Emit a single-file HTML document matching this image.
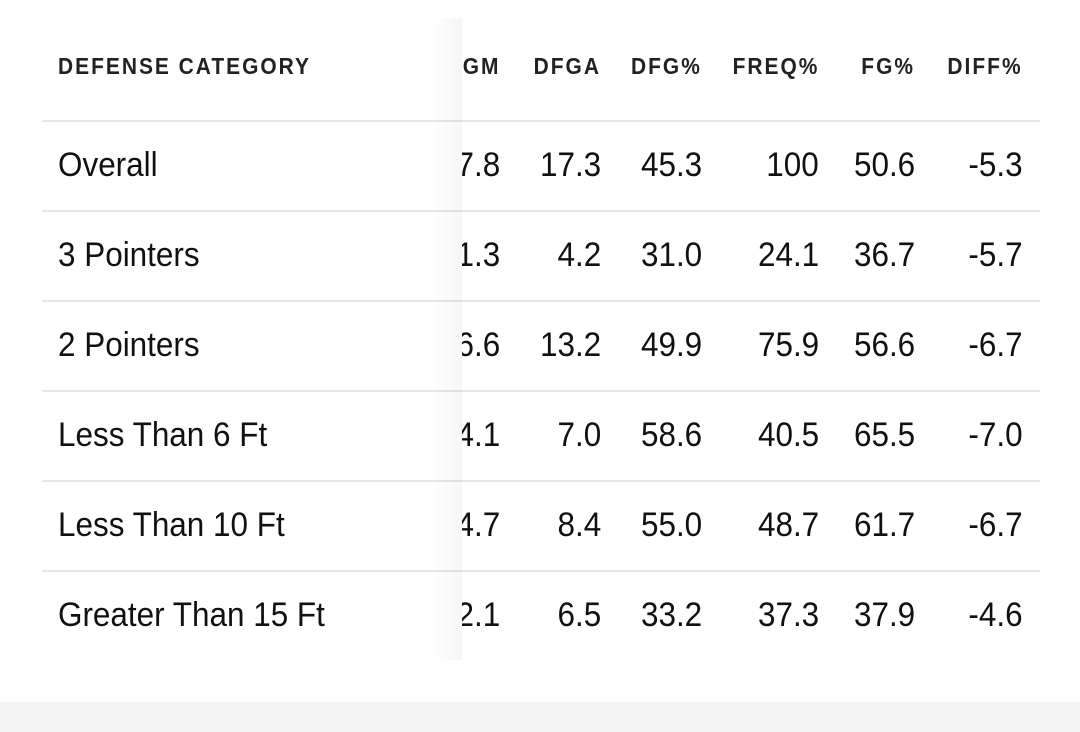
<!DOCTYPE html>
<html><head><meta charset="utf-8"><style>
body{margin:0;width:1080px;height:732px;background:#fff;position:relative;overflow:hidden;font-family:"Liberation Sans Narrow","Liberation Sans",sans-serif;color:#111}
.t{position:absolute;white-space:nowrap;line-height:1}
.h{font-weight:bold;font-size:23px;letter-spacing:2.2px;color:#222}
.v{font-size:34px}
.L{transform-origin:left center}
.R{transform-origin:right center}
.h.L,.h.R{transform:scaleX(0.91)}
.v.L,.v.R{transform:scaleX(0.925)}
.line{position:absolute;left:42px;width:998px;height:2px;background:#e6e6e6}
#scroll{position:absolute;left:462px;top:0;width:618px;height:700px;overflow:hidden}
</style></head><body>
<div id="tbl"></div>
<div style="position:absolute;left:432px;top:18px;width:30px;height:642px;background:linear-gradient(to right,rgba(0,0,0,0),rgba(0,0,0,0.035))"></div>
<div style="position:absolute;left:0;top:702px;width:1080px;height:30px;background:#f4f4f4"></div>
<script>
const headers=["GM","DFGA","DFG%","FREQ%","FG%","DIFF%"];
const categories=["Overall","3 Pointers","2 Pointers","Less Than 6 Ft","Less Than 10 Ft","Greater Than 15 Ft"];
const dfgm=["7.8","1.3","6.6","4.1","4.7","2.1"];
const dfga=["17.3","4.2","13.2","7.0","8.4","6.5"];
const dfgPct=["45.3","31.0","49.9","58.6","55.0","33.2"];
const freqPct=["100","24.1","75.9","40.5","48.7","37.3"];
const fgPct=["50.6","36.7","56.6","65.5","61.7","37.9"];
const diffPct=["-5.3","-5.7","-6.7","-7.0","-6.7","-4.6"];
const cols=[dfgm,dfga,dfgPct,freqPct,fgPct,diffPct];
const rightEdges=[500,601,702,819,915,1023];
const tbl=document.getElementById('tbl');
const sc=document.createElement('div');sc.id='scroll';


function txt(parent,s,cls,x,y,right,offset){
  const d=document.createElement('div');d.className='t '+cls+(right?' R':' L');d.textContent=s;
  if(right){d.style.right=(offset-x)+'px';}else d.style.left=x+'px';
  d.style.top=y+'px';parent.appendChild(d);return d;}
const h=txt(tbl,"DEFENSE CATEGORY","h",58,55,false);


headers.forEach((s,i)=>{const d=txt(sc,s,"h",rightEdges[i],55,true,618+462);

});
categories.forEach((c,r)=>{
  const ly=120+r*90;
  const l=document.createElement('div');l.className='line';l.style.top=ly+'px';
  
  
  tbl.appendChild(l);
  const y=ly+28;
  const d=txt(tbl,c,"v",58,y,false);
  
  
  cols.forEach((col,i)=>{const e=txt(sc,col[r],"v",rightEdges[i],y,true,618+462);
  
  });
});
document.body.appendChild(sc);
</script>
</body></html>
